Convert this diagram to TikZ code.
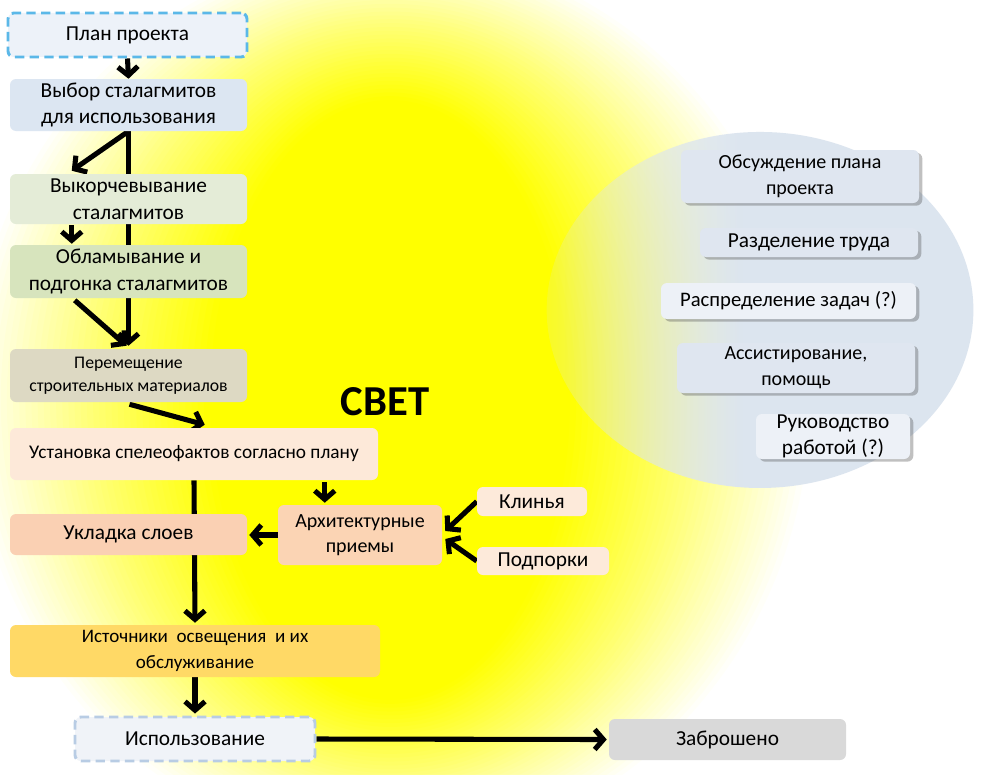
\documentclass[tikz,border=0pt]{standalone}
\usepackage{fontspec}
\setmainfont{Carlito}
\usetikzlibrary{arrows.meta,shadows,fadings,calc}
\definecolor{glowy}{RGB}{255,255,0}
\definecolor{planfill}{HTML}{EDF2F9}
\definecolor{planborder}{HTML}{5BB8E8}
\definecolor{vybor}{HTML}{DCE6F2}
\definecolor{vykor}{HTML}{E4ECD7}
\definecolor{oblam}{HTML}{D7E4BD}
\definecolor{perem}{HTML}{DDD9C3}
\definecolor{ustan}{HTML}{FDE9D9}
\definecolor{uklad}{HTML}{FAD0B3}
\definecolor{arch}{HTML}{FBD4B4}
\definecolor{klin}{HTML}{FDEADA}
\definecolor{istoch}{HTML}{FFD966}
\definecolor{ispolfill}{HTML}{F0F3F8}
\definecolor{ispolborder}{HTML}{B8CCE4}
\definecolor{zabr}{HTML}{D9D9D9}
\definecolor{ellcol}{HTML}{DCE5EF}
\definecolor{rbox}{HTML}{DFE6F0}
\definecolor{rboxlight}{HTML}{EDF1F7}
\pgfdeclarehorizontalshading{ellfadeshd}{100bp}{color(0bp)=(black!85); color(25bp)=(black!85); color(48bp)=(white); color(100bp)=(white)}
\pgfdeclarefading{ellfade}{\pgfuseshading{ellfadeshd}}
\pgfdeclarelayer{bg}
\pgfdeclarelayer{lines}
\pgfsetlayers{bg,lines,main}
\begin{document}
\begin{tikzpicture}[x=0.75pt,y=-0.75pt,
  box/.style={rounded corners=4.5pt, align=center, inner sep=0pt, text=black,
    font=\fontsize{16}{20}\selectfont},
  rbx/.style={box, drop shadow={shadow xshift=2.5pt, shadow yshift=-2pt, opacity=0.35, fill=black!70}},
  dashbox/.style={line width=2.2pt, dash pattern=on 7pt off 4pt},
  arr/.style={line width=3.8pt, -{Straight Barb[length=6.5pt,width=15pt]}}]
\useasboundingbox (0,0) rectangle (987,774);
\begin{pgfonlayer}{bg}
\clip (0,0) rectangle (987,774);
\fill[white] (0,0) rectangle (987,774);
\foreach \k in {1,...,40}{
  \pgfmathsetmacro\grx{(180+240*(40-\k)/39)*0.75}
  \pgfmathsetmacro\gry{(300+150*(40-\k)/39)*0.75}
  \pgfmathsetmacro\gop{1/(41-\k)}
  \fill[glowy, opacity=\gop] (390,400) ellipse[x radius=\grx pt, y radius=\gry pt];
}
\fill[ellcol, path fading=ellfade] (760,310) ellipse[x radius=160pt, y radius=133.5pt];
\end{pgfonlayer}

% left column
\node[box, fill=planfill, draw=planborder, dashbox, minimum width=179.25pt, minimum height=33pt] (plan) at (127.5,35) {План проекта};
\node[box, fill=vybor, minimum width=177.75pt, minimum height=39pt] (vybor) at (128.5,105) {Выбор сталагмитов\\для использования};
\node[box, fill=vykor, minimum width=177.75pt, minimum height=37.5pt] (vykor) at (128.5,199) {Выкорчевывание\\сталагмитов};
\node[box, fill=oblam, minimum width=177.75pt, minimum height=39.75pt] (oblam) at (128.5,271.5) {Обламывание и\\подгонка сталагмитов};
\node[box, fill=perem, minimum width=177.75pt, minimum height=39.75pt, font=\fontsize{13.3}{17}\selectfont] (perem) at (128.5,375.5) {Перемещение\\строительных материалов};
\node[box, fill=ustan, minimum width=276pt, minimum height=39pt, font=\fontsize{14.5}{18}\selectfont] (ustan) at (194,454) {Установка спелеофактов согласно плану};
\node[box, fill=uklad, minimum width=177.75pt, minimum height=30.75pt] (uklad) at (128.5,534.5) {Укладка слоев};
\node[box, fill=arch, minimum width=123pt, minimum height=45pt, font=\fontsize{15}{19}\selectfont] (arch) at (360,535) {Архитектурные\\приемы};
\node[box, fill=klin, minimum width=82.5pt, minimum height=21.75pt] (klin) at (532,501.5) {Клинья};
\node[box, fill=klin, minimum width=99pt, minimum height=21pt] (podp) at (543,561) {Подпорки};
\node[box, fill=istoch, minimum width=277.5pt, minimum height=39pt, font=\fontsize{14.3}{19}\selectfont] (istoch) at (195,651) {Источники\ \ освещения\ \ и их\\обслуживание};
\node[box, fill=ispolfill, draw=ispolborder, dashbox, minimum width=180pt, minimum height=33pt] (ispol) at (195,739) {Использование};
\node[box, fill=zabr, minimum width=177.75pt, minimum height=30.75pt] (zabr) at (727.5,739.5) {Заброшено};
\node[font=\fontsize{32}{36}\selectfont\bfseries] (svet) at (385,402) {СВЕТ};

% right group
\node[rbx, fill=rbox, minimum width=178.5pt, minimum height=39.75pt, font=\fontsize{15}{19.5}\selectfont] (obsuzh) at (800,176.5) {Обсуждение плана\\проекта};
\node[rbx, fill=rbox, minimum width=163.5pt, minimum height=21.75pt] (razdel) at (809,242.5) {Разделение труда};
\node[rbx, fill=rboxlight, minimum width=191.25pt, minimum height=27pt, font=\fontsize{15.5}{19}\selectfont] (raspr) at (788.5,301) {Распределение задач (?)};
\node[rbx, fill=rbox, minimum width=178.5pt, minimum height=37.5pt, font=\fontsize{15}{19.5}\selectfont] (assist) at (796,368) {Ассистирование,\\помощь};
\node[rbx, fill=rboxlight, minimum width=115.5pt, minimum height=33.75pt] (rukov) at (833,436.5) {Руководство\\работой (?)};

% connectors
\begin{pgfonlayer}{lines}
\draw[arr] (plan.south) -- (vybor.north);
\draw[arr] (vybor.south) -- ($(perem.north)+(0,-3)$);
\draw[arr] (vybor.south) -- ($(vykor.north west)+(62,-3)$);
\draw[arr] ($(vykor.south west)+(62,1)$) -- ($(oblam.north west)+(62,-1)$);
\draw[arr] ($(oblam.south west)+(65,2)$) -- ($(perem.north)+(-2,-3)$);
\draw[arr] ($(perem.south)+(1,2)$) -- ($(ustan.north west)+(195,-3)$);
\draw[arr] (ustan.south) -- ($(istoch.north)+(0,-2)$);
\draw[arr] ($(ustan.south west)+(315,2)$) -- ($(arch.north west)+(47,-2)$);
\draw[arr] (arch.west) -- ($(uklad.east)+(2,0.5)$);
\draw[arr] (klin.west) -- ($(arch.east)+(3,-4)$);
\draw[arr] (podp.west) -- ($(arch.east)+(3,4)$);
\draw[arr] (istoch.south) -- ($(ispol.north)+(0,-2)$);
\draw[arr] (ispol.east) -- ($(zabr.west)+(-2,0)$);
\end{pgfonlayer}
\end{tikzpicture}
\end{document}
